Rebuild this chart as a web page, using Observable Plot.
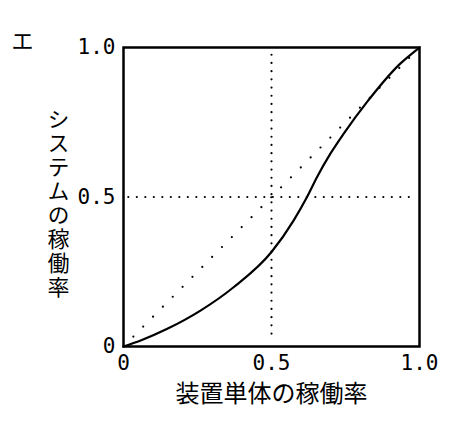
<!DOCTYPE html>
<html>
<head>
<meta charset="utf-8">
<script src="https://cdn.jsdelivr.net/npm/d3@7"></script>
<script src="https://cdn.jsdelivr.net/npm/@observablehq/plot@0.6"></script>
<style>
  html, body { margin: 0; padding: 0; background: #fff; }
</style>
</head>
<body>
<div id="chart"></div>
<script>
const panelLabel = "エ";
const xLabel = "装置単体の稼働率";
const yLabel = "システムの稼働率";
const tickValues = [0, 0.5, 1];
const tickLabels = ["0", "0.5", "1.0"];
const curveX = [0, 0.058, 0.148, 0.26, 0.373, 0.5, 0.575, 0.62, 0.654, 0.699, 0.744, 0.823, 0.935, 1];
const curveY = [0, 0.02, 0.059, 0.12, 0.199, 0.316, 0.422, 0.5, 0.567, 0.645, 0.712, 0.818, 0.946, 1];
const diagX = [0, 1];
const diagY = [0, 1];
const refValue = 0.5;

const curve = curveX.map((x, i) => ({x, y: curveY[i]}));
const diag = diagX.map((x, i) => ({x, y: diagY[i]}));
const fmt = v => tickLabels[tickValues.indexOf(v)];
const cjk = "'Noto Sans CJK JP', sans-serif";
const mono = "'DejaVu Sans Mono', monospace";

const plot = Plot.plot({
  width: 451,
  height: 446,
  marginLeft: 123,
  marginRight: 32,
  marginTop: 47,
  marginBottom: 100,
  style: {fontFamily: mono, color: "#000", background: "#fff"},
  x: {domain: [0, 1], axis: null},
  y: {domain: [0, 1], axis: null},
  marks: [
    Plot.axisX({ticks: tickValues, tickFormat: fmt, tickSize: 0, tickPadding: 9, fontSize: 21, label: null, fontFamily: mono}),
    Plot.axisY({ticks: tickValues, tickFormat: fmt, tickSize: 0, tickPadding: 8, fontSize: 21, label: null, fontFamily: mono}),
    Plot.ruleX([refValue], {y1: 0.974, y2: 0.023, stroke: "#000", strokeWidth: 2.2, strokeDasharray: "0,8.2", strokeLinecap: "round"}),
    Plot.ruleY([refValue], {x1: 0.018, x2: 0.976, stroke: "#000", strokeWidth: 2.2, strokeDasharray: "0,8.5", strokeLinecap: "round"}),
    Plot.line(diag, {x: "x", y: "y", stroke: "#000", strokeWidth: 2.2, strokeDasharray: "0,14", strokeLinecap: "round"}),
    Plot.line(curve, {x: "x", y: "y", curve: "monotone-x", stroke: "#000", strokeWidth: 2.2}),
    Plot.frame({stroke: "#000", strokeWidth: 2.5}),
    Plot.text([xLabel], {text: d => d, frameAnchor: "bottom", dy: 55, fontSize: 24, fontFamily: cjk, fill: "#000"}),
    Plot.text([yLabel], {text: d => d, className: "ylab", frameAnchor: "left", textAnchor: "middle", lineAnchor: "bottom", dx: -65, dy: 7, fontSize: 22, fontFamily: cjk, fill: "#000"}),
    Plot.text([panelLabel], {text: d => d, frameAnchor: "top-left", textAnchor: "middle", lineAnchor: "middle", dx: -101, dy: -6, fontSize: 22, fontFamily: cjk, fill: "#000"})
  ]
});
d3.select(plot).selectAll(".ylab text")
  .attr("writing-mode", "vertical-rl")
  .style("writing-mode", "vertical-rl")
  .attr("letter-spacing", 2);
document.getElementById("chart").appendChild(plot);
</script>
</body>
</html>
